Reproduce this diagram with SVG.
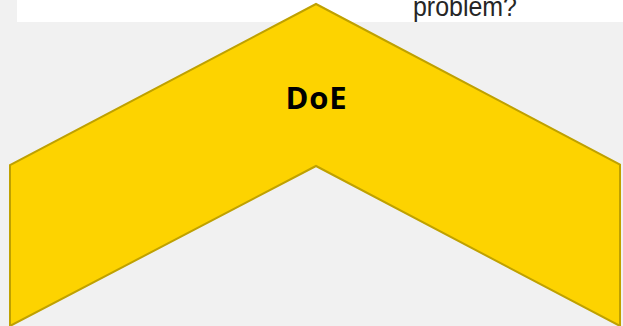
<svg xmlns="http://www.w3.org/2000/svg" width="623" height="326" viewBox="0 0 623 326">
  <style>
    .bg { fill: #f1f1f1; }
    .panel { fill: #ffffff; }
    .note { font-family: "Liberation Sans", Arial, sans-serif; font-size: 28px; fill: #262626; }
    .chevron { fill: #fdd300; stroke: #bfa100; stroke-width: 2; stroke-linejoin: miter; }
    .label { font-family: "Open Sans", "Noto Sans", sans-serif; font-weight: bold; font-size: 31px; letter-spacing: 0.8px; fill: #000000; }
  </style>
  <rect class="bg" x="0" y="0" width="623" height="326"/>
  <g id="note-panel">
    <rect class="panel" x="17" y="0" width="606" height="22"/>
    <text class="note" x="413" y="15.5" textLength="104" lengthAdjust="spacingAndGlyphs">problem?</text>
  </g>
  <g id="doe">
    <path class="chevron" d="M316,4 L620,164.5 L620,326 L316,166 L10,326 L10,165 Z"/>
    <text class="label" x="316.5" y="109" text-anchor="middle">DoE</text>
  </g>
</svg>
